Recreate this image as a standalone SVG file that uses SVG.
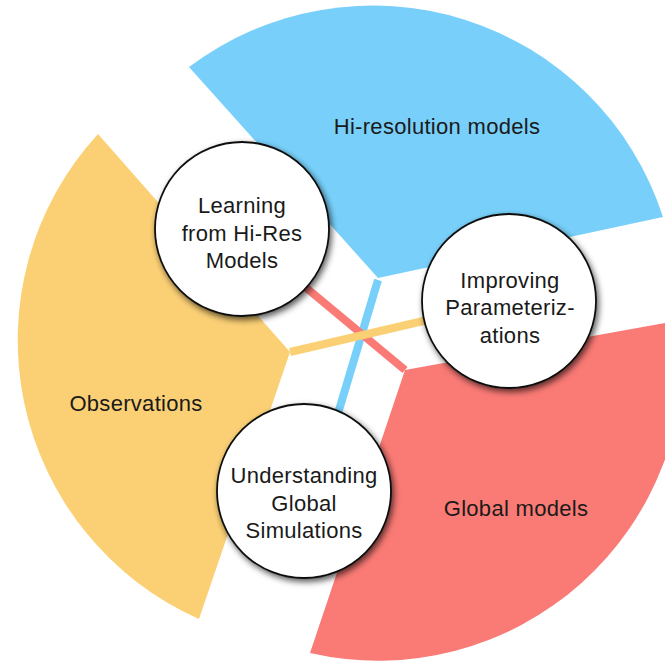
<svg xmlns="http://www.w3.org/2000/svg" width="665" height="661" viewBox="0 0 665 661">
  <defs>
    <filter id="shadow" x="-20%" y="-20%" width="150%" height="150%">
      <feDropShadow dx="2" dy="3" stdDeviation="3" flood-color="#000" flood-opacity="0.65"/>
    </filter>
  </defs>
  <style>
    .hires { fill: #78D0FA; }
    .obs { fill: #FBD075; }
    .glob { fill: #FA7A75; }
    .link { fill: none; stroke-width: 8; stroke-linecap: butt; }
    .node circle { fill: #fff; stroke: #111; stroke-width: 1.8; filter: url(#shadow); }
    text { font-family: "Liberation Sans", Arial, Helvetica, sans-serif; font-size: 22px; letter-spacing: 0.3px; fill: #1a1a1a; text-anchor: middle; }
  </style>

  <rect width="665" height="661" fill="#fff"/>

  <!-- three wedges -->
  <g id="hi-resolution-models">
    <path class="hires" d="M378,278 L189,67 A305,305 0 0,1 663,217 Z"/>
    <text x="437" y="134">Hi-resolution models</text>
  </g>
  <g id="observations">
    <path class="obs" d="M290,352 L199,619 A305,305 0 0,1 98,134 Z"/>
    <text x="136" y="411">Observations</text>
  </g>
  <g id="global-models">
    <path class="glob" d="M405,370 L681,320 A305,305 0 0,1 310,653 Z"/>
    <text x="516" y="516">Global models</text>
  </g>

  <!-- connectors from each wedge to a circle -->
  <g id="connectors">
    <line class="link" stroke="#78D0FA" x1="378" y1="280" x2="336" y2="420"/>
    <line class="link" stroke="#FA7A75" x1="298" y1="281" x2="405" y2="370"/>
    <line class="link" stroke="#FBD075" x1="290" y1="352" x2="432" y2="319"/>
  </g>

  <!-- circles -->
  <g id="learning" class="node">
    <circle cx="242" cy="229" r="87"/>
    <text x="242" y="213">Learning</text>
    <text x="242" y="241">from Hi-Res</text>
    <text x="242" y="268">Models</text>
  </g>
  <g id="improving" class="node">
    <circle cx="509" cy="301" r="87"/>
    <text x="510" y="288">Improving</text>
    <text x="510" y="315">Parameteriz-</text>
    <text x="510" y="343">ations</text>
  </g>
  <g id="understanding" class="node">
    <circle cx="304" cy="491" r="87"/>
    <text x="304" y="483">Understanding</text>
    <text x="304" y="511">Global</text>
    <text x="304" y="538">Simulations</text>
  </g>
</svg>
